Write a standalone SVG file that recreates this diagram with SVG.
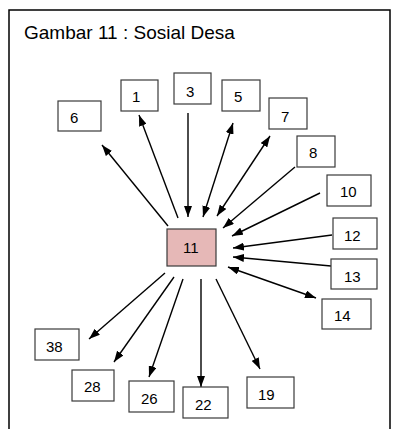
<svg xmlns="http://www.w3.org/2000/svg" width="398" height="429" viewBox="0 0 398 429">
<style>
.box{fill:#fff;stroke:#3a3a3a;stroke-width:1.2}
.hub{fill:#e6b8b7;stroke:#3a3a3a;stroke-width:1.2}
.lbl{font-family:"Liberation Sans",Arial,sans-serif;font-size:15px;fill:#000}
.title{font-family:"Liberation Sans",Arial,sans-serif;font-size:19px;fill:#000}
.c line{stroke:#000;stroke-width:1.4;fill:none}
.e{marker-end:url(#ah)}
.b{marker-end:url(#ah);marker-start:url(#ah)}
</style>
<defs>
<marker id="ah" viewBox="0 0 11 8" refX="11" refY="4" markerWidth="11" markerHeight="8" markerUnits="userSpaceOnUse" orient="auto-start-reverse">
<path d="M0,0 L11,4 L0,8 z" fill="#000"/>
</marker>
</defs>
<rect width="398" height="429" fill="#fff"/>
<path d="M9,430 L9,10 L390,10 L390,430" fill="none" stroke="#000" stroke-width="1.5"/>
<text class="title" x="24" y="39">Gambar 11 : Sosial Desa</text>

<g id="connectors" class="c">
<line class="e" x1="168" y1="226" x2="102" y2="145"/>
<line class="e" x1="178" y1="218" x2="139" y2="115"/>
<line class="e" x1="188" y1="113" x2="188" y2="217"/>
<line class="b" x1="203" y1="217" x2="233" y2="123"/>
<line class="b" x1="217" y1="216" x2="270" y2="136"/>
<line class="e" x1="295" y1="167" x2="223" y2="228"/>
<line class="e" x1="320" y1="193" x2="232" y2="236"/>
<line class="e" x1="332" y1="235" x2="233" y2="248"/>
<line class="e" x1="331" y1="266" x2="233" y2="257"/>
<line class="b" x1="228" y1="267" x2="316" y2="298"/>
<line class="e" x1="165" y1="273" x2="89" y2="339"/>
<line class="e" x1="174" y1="277" x2="114" y2="362"/>
<line class="e" x1="183" y1="279" x2="149" y2="377"/>
<line class="e" x1="201" y1="279" x2="201" y2="387"/>
<line class="e" x1="216" y1="279" x2="260" y2="369"/>
</g>

<g id="n11"><rect class="hub" x="167" y="229" width="49" height="37"/><text class="lbl" x="183" y="253">11</text></g>
<g id="n6"><rect class="box" x="58" y="101" width="43" height="30"/><text class="lbl" x="70" y="123">6</text></g>
<g id="n1"><rect class="box" x="121" y="80" width="37" height="31"/><text class="lbl" x="132" y="102">1</text></g>
<g id="n3"><rect class="box" x="174" y="73" width="37" height="31"/><text class="lbl" x="186" y="97">3</text></g>
<g id="n5"><rect class="box" x="222" y="80" width="38" height="31"/><text class="lbl" x="234" y="102">5</text></g>
<g id="n7"><rect class="box" x="269" y="98" width="38" height="31"/><text class="lbl" x="281" y="122">7</text></g>
<g id="n8"><rect class="box" x="297" y="136" width="38" height="31"/><text class="lbl" x="309" y="158">8</text></g>
<g id="n10"><rect class="box" x="327" y="175" width="44" height="31"/><text class="lbl" x="340" y="197">10</text></g>
<g id="n12"><rect class="box" x="333" y="218" width="44" height="31"/><text class="lbl" x="344" y="241">12</text></g>
<g id="n13"><rect class="box" x="331" y="259" width="46" height="30"/><text class="lbl" x="344" y="282">13</text></g>
<g id="n14"><rect class="box" x="322" y="299" width="49" height="30"/><text class="lbl" x="334" y="321">14</text></g>
<g id="n38"><rect class="box" x="35" y="329" width="44" height="31"/><text class="lbl" x="46" y="352">38</text></g>
<g id="n28"><rect class="box" x="72" y="370" width="42" height="31"/><text class="lbl" x="84" y="392">28</text></g>
<g id="n26"><rect class="box" x="129" y="381" width="45" height="31"/><text class="lbl" x="141" y="404">26</text></g>
<g id="n22"><rect class="box" x="183" y="387" width="45" height="31"/><text class="lbl" x="195" y="410">22</text></g>
<g id="n19"><rect class="box" x="247" y="377" width="47" height="31"/><text class="lbl" x="258" y="400">19</text></g>
</svg>
